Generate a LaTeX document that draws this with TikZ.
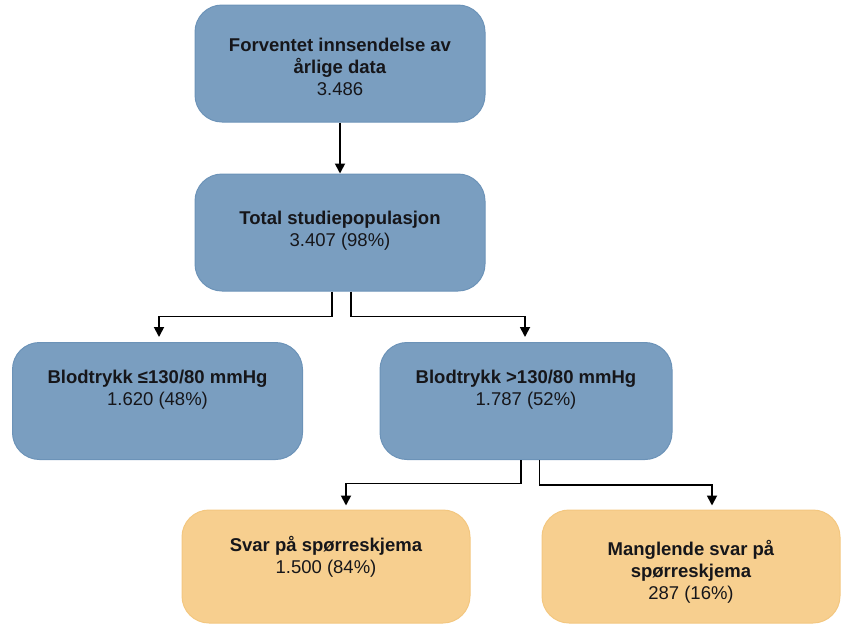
\documentclass[tikz,border=0pt]{standalone}
\usepackage{fontspec}
\setmainfont{Liberation Sans}
\usetikzlibrary{arrows.meta}

\definecolor{boxblue}{RGB}{122,158,192}
\definecolor{boxblueline}{RGB}{108,147,184}
\definecolor{boxorange}{RGB}{247,207,143}
\definecolor{boxorangeline}{RGB}{243,199,128}
\definecolor{boxink}{RGB}{22,22,26}

\begin{document}
\begin{tikzpicture}[x=1pt, y=-1pt,
    bluebox/.style={draw=boxblueline, fill=boxblue, line width=1pt,
      rounded corners=27pt, inner sep=0pt,
      minimum width=290pt, minimum height=117pt},
    orangebox/.style={bluebox, draw=boxorangeline, fill=boxorange,
      minimum height=113pt},
    boxtext/.style={align=center, text=boxink,
      font=\fontsize{18.5}{22}\selectfont},
    flow/.style={-{Triangle[width=10pt,length=10pt]}, line width=1.8pt}]
      %% \draw [help lines, opacity=0.5] (0,0) grid [step=50] (853,627);

      \useasboundingbox (0,0) rectangle (853,627);

      \node [bluebox] (forventet) at (340,63.5) {};
      \node [boxtext] (forventet-txt) at (340,66.5)
      {\textbf{Forventet innsendelse av}\\ \textbf{årlige data}\\ 3.486};

      \node [bluebox] (total) at (340,232.5) {};
      \node [boxtext] (total-txt) at (340,231)
      {\textbf{Total studiepopulasjon}\\ 3.407 (98\%)};

      \node [bluebox] (lavt) at (157.5,401) {};
      \node [boxtext] (lavt-txt) at (157.5,389.5)
      {\textbf{Blodtrykk ≤130/80 mmHg}\\ 1.620 (48\%)};

      \node [bluebox, minimum width=292pt] (hoyt) at (526,401) {};
      \node [boxtext] (hoyt-txt) at (526,389.5)
      {\textbf{Blodtrykk >130/80 mmHg}\\ 1.787 (52\%)};

      \node [orangebox, minimum width=288pt] (svar) at (326,566.5) {};
      \node [boxtext] (svar-txt) at (326,556.5)
      {\textbf{Svar på spørreskjema}\\ 1.500 (84\%)};

      \node [orangebox, minimum width=298pt] (mangler) at (691,566.5) {};
      \node [boxtext] (mangler-txt) at (691,571.5)
      {\textbf{Manglende svar på}\\ \textbf{spørreskjema}\\ 287 (16\%)};

      \draw [flow] (forventet) -- (total);

      \draw [flow] ([xshift=-8pt]total.south) -- ++(0,25)
        -| ([xshift=1.5pt, yshift=5pt]lavt.north);
      \draw [flow] ([xshift=11pt]total.south) -- ++(0,25)
        -| ([xshift=-1pt, yshift=5pt]hoyt.north);

      \draw [flow] ([xshift=-5pt]hoyt.south) -- ++(0,23.5)
        -| ([xshift=20pt, yshift=4pt]svar.north);
      \draw [flow] ([xshift=13.5pt]hoyt.south) -- ++(0,25)
        -| ([xshift=21pt, yshift=4pt]mangler.north);

   \end{tikzpicture}
\end{document}
